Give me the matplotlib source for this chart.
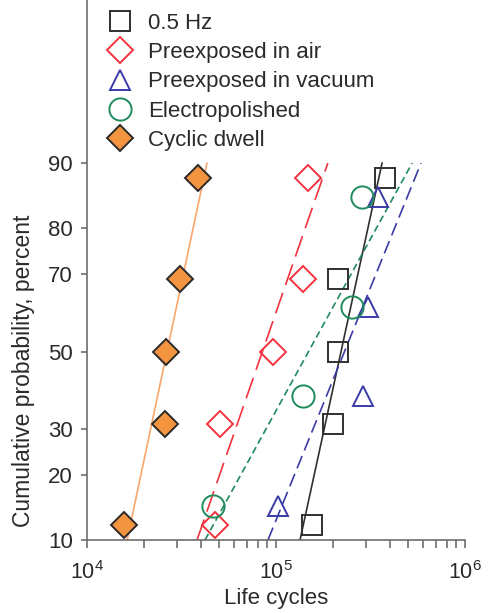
import numpy as np
import matplotlib
matplotlib.use("Agg")
import matplotlib.pyplot as plt
from matplotlib.lines import Line2D
from statistics import NormalDist

plt.rcParams['font.family'] = ['Liberation Sans', 'DejaVu Sans']
plt.rcParams['mathtext.fontset'] = 'custom'
plt.rcParams['mathtext.rm'] = 'Liberation Sans'
plt.rcParams['mathtext.it'] = 'Liberation Sans'

# ---- data (cycles, cumulative probability in %) ----
hz_N = [1.55e5, 2.0e5, 2.13e5, 2.13e5, 3.77e5]
hz_P = [11.9, 31.0, 50.0, 69.0, 88.1]
air_N = [4.76e4, 5.05e4, 9.64e4, 1.39e5, 1.476e5]
air_P = [11.9, 31.0, 50.0, 69.0, 88.1]
vac_N = [1.03e5, 2.89e5, 3.07e5, 3.47e5]
vac_P = [14.7, 38.2, 61.8, 85.3]
ep_N = [4.64e4, 1.39e5, 2.52e5, 2.85e5]
ep_P = [14.7, 38.2, 61.8, 85.3]
dw_N = [1.57e4, 2.6e4, 2.62e4, 3.1e4, 3.87e4]
dw_P = [11.9, 31.0, 50.0, 69.0, 88.1]

# fitted lines: (N at lower end, N at upper end), (P lower, P upper)
hz_fit_N = [1.34e5, 3.64e5]
air_fit_N = [3.82e4, 1.88e5]
vac_fit_N = [9.07e4, 5.85e5]
ep_fit_N = [4.21e4, 5.25e5]
dw_fit_N = [1.63e4, 4.31e4]
fit_P = [10.0, 90.0]

labels = ["0.5 Hz", "Preexposed in air", "Preexposed in vacuum",
          "Electropolished", "Cyclic dwell"]
yticks = [10, 20, 30, 50, 70, 80, 90]

# ---- probability scale ----
_nd = NormalDist()
_ppf = np.vectorize(_nd.inv_cdf, otypes=[float])
_cdf = np.vectorize(_nd.cdf, otypes=[float])
def fwd(p):
    p = np.clip(np.asarray(p, dtype=float) / 100.0, 1e-9, 1 - 1e-9)
    return _ppf(p)
def inv(z):
    z = np.asarray(z, dtype=float)
    return _cdf(z) * 100.0

fig = plt.figure(figsize=(4.88, 6.13), dpi=100)
ax = fig.add_axes([87/488, 73/613, (465-87)/488, 1 - 73/613])
ax.set_xscale('log')
ax.set_yscale('function', functions=(fwd, inv))

red = '#f2333f'
blue = '#3b3ba8'
green = '#1f8a5c'
black = '#303030'
orange = '#f39440'
orange_line = '#f8a66c'
txt = '#2a2a2a'

lw = 1.2
# lines
ax.plot(hz_fit_N, fit_P, color=black, lw=lw)
l, = ax.plot(air_fit_N, fit_P, color=red, lw=lw); l.set_dashes((13, 5))
l, = ax.plot(vac_fit_N, fit_P, color=blue, lw=lw); l.set_dashes((8, 3.6))
l, = ax.plot(ep_fit_N, fit_P, color=green, lw=lw); l.set_dashes((4.2, 2.4))
ax.plot(dw_fit_N, fit_P, color=orange_line, lw=lw)

# markers
mew = 1.4
ax.plot(hz_N, hz_P, ls='none', marker='s', ms=14, mfc='none', mec=black, mew=mew)
ax.plot(air_N, air_P, ls='none', marker='D', ms=13, mfc='none', mec=red, mew=mew)
ax.plot(vac_N, vac_P, ls='none', marker='^', ms=15, mfc='none', mec=blue, mew=mew)
ax.plot(ep_N, ep_P, ls='none', marker='o', ms=16, mfc='none', mec=green, mew=mew)
ax.plot(dw_N, dw_P, ls='none', marker='D', ms=13, mfc=orange, mec=txt, mew=mew, zorder=5)

ax.set_xlim(1e4, 1e6)
ax.set_ylim(10, 99.16)
ax.set_yticks(yticks)
ax.set_yticklabels([str(t) for t in yticks])
ax.yaxis.set_minor_locator(matplotlib.ticker.NullLocator())
ax.set_xticks([1e4, 1e5, 1e6])
ax.set_xticklabels([r'$\mathregular{10^{4}}$', r'$\mathregular{10^{5}}$', r'$\mathregular{10^{6}}$'])
ax.xaxis.set_minor_locator(matplotlib.ticker.LogLocator(base=10, subs=np.arange(2, 10)))
ax.xaxis.set_minor_formatter(matplotlib.ticker.NullFormatter())

for s in ['top', 'right']:
    ax.spines[s].set_visible(False)
for s in ['left', 'bottom']:
    ax.spines[s].set_color('#6e6e6e')
    ax.spines[s].set_linewidth(1.2)
ax.tick_params(axis='x', which='both', direction='out', length=6, width=1.2,
               color='#6e6e6e', labelsize=15.5, labelcolor=txt, pad=9.5)
ax.tick_params(axis='y', which='both', direction='out', length=4.5, width=1.2,
               color='#6e6e6e', labelsize=16, labelcolor=txt, pad=5.5)

ax.set_xlabel("Life cycles", fontsize=16, color=txt, labelpad=2.5)
ax.set_ylabel("Cumulative probability, percent", fontsize=16.5, color=txt)
ax.yaxis.set_label_coords(-0.137, 0.313)

handles = [
    Line2D([], [], ls='none', marker='s', ms=14, mfc='none', mec=black, mew=mew),
    Line2D([], [], ls='none', marker='D', ms=13, mfc='none', mec=red, mew=mew),
    Line2D([], [], ls='none', marker='^', ms=15, mfc='none', mec=blue, mew=mew),
    Line2D([], [], ls='none', marker='o', ms=16, mfc='none', mec=green, mew=mew),
    Line2D([], [], ls='none', marker='D', ms=13, mfc=orange, mec=txt, mew=mew),
]
leg = fig.legend(handles, labels, loc='upper left', bbox_to_anchor=(109/488, 1 - 13/613),
                 frameon=False, fontsize=16, borderpad=0, borderaxespad=0,
                 handlelength=1.0, handletextpad=0.76, labelspacing=0.37)
for t in leg.get_texts():
    t.set_color(txt)

fig.savefig("out.png", dpi=100)
